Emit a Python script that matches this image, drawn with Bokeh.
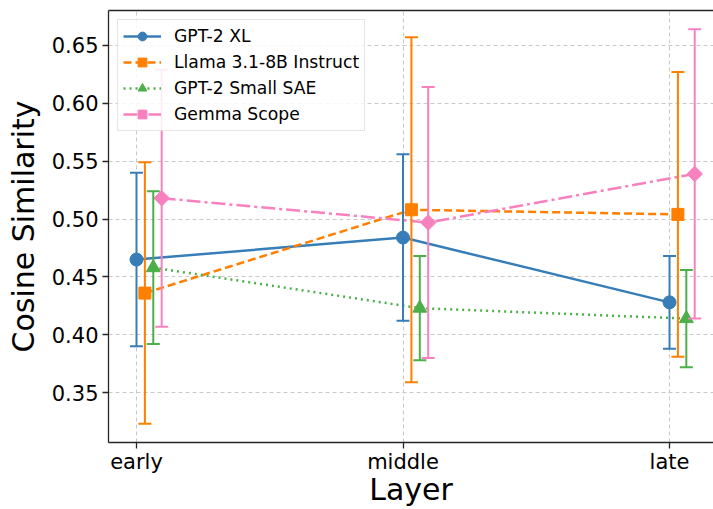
import numpy as np
from bokeh.plotting import figure
from bokeh.models import (Range1d, FixedTicker, PrintfTickFormatter, Whisker, TeeHead,
                          ColumnDataSource, Legend, LegendItem, LinearAxis)
from bokeh.embed import file_html
from bokeh.resources import INLINE

layers = ["early", "middle", "late"]
series_names = ["GPT-2 XL", "Llama 3.1-8B Instruct", "GPT-2 Small SAE", "Gemma Scope"]

gpt2xl_mean = [0.465, 0.484, 0.428]
gpt2xl_err = [0.075, 0.072, 0.040]
llama_mean = [0.436, 0.508, 0.504]
llama_err = [0.113, 0.149, 0.123]
sae_mean = [0.458, 0.423, 0.414]
sae_err = [0.066, 0.045, 0.042]
gemma_mean = [0.518, 0.497, 0.539]
gemma_err = [0.111, 0.117, 0.125]

y_ticks = [0.35, 0.40, 0.45, 0.50, 0.55, 0.60, 0.65]

means = [gpt2xl_mean, llama_mean, sae_mean, gemma_mean]
errs = [gpt2xl_err, llama_err, sae_err, gemma_err]
colors = ["#377eb8", "#ff7f00", "#4daf4a", "#f781bf"]
dashes = ["solid", "8 4", "2 4", "14 4 3 4"]
markers = ["circle", "square", "triangle", "square"]
msizes = [13, 12, 14, 11]
angles = [0, 0, 0, np.pi / 4]
step = 0.0315

FONT = "DejaVu Sans"
AX = "#262626"

p = figure(width=713, height=509, output_backend="svg", toolbar_location=None,
           x_range=Range1d(-0.105, 2.165), y_range=Range1d(0.3069, 0.6802),
           min_border_left=108, min_border_right=0, min_border_top=10, min_border_bottom=66)
p.outline_line_color = None
p.background_fill_color = "white"

for ax in (p.xaxis[0], p.yaxis[0]):
    ax.axis_line_color = AX
    ax.axis_line_width = 1.3
    ax.major_tick_line_color = AX
    ax.major_tick_line_width = 1.3
    ax.major_tick_out = 6
    ax.major_tick_in = 0
    ax.minor_tick_line_color = None
    ax.major_label_text_font = FONT
    ax.major_label_text_font_size = "21px"
    ax.major_label_text_color = "black"
    ax.axis_label_text_font = FONT
    ax.axis_label_text_font_size = "30px"
    ax.axis_label_text_font_style = "normal"
    ax.axis_label_text_color = "black"

p.xaxis.ticker = FixedTicker(ticks=list(range(len(layers))))
p.xaxis.major_label_overrides = {i: l for i, l in enumerate(layers)}
p.xaxis.axis_label = "Layer"
p.xaxis.major_label_standoff = 1
p.xaxis.axis_label_standoff = -5

p.yaxis.ticker = FixedTicker(ticks=y_ticks)
p.yaxis.formatter = PrintfTickFormatter(format="%.2f")
p.yaxis.axis_label = "Cosine Similarity"
p.yaxis.major_label_standoff = 4
p.yaxis.axis_label_standoff = 8

top = LinearAxis(ticker=FixedTicker(ticks=[]), major_label_text_font_size="0px",
                 major_tick_out=0, major_tick_in=0, minor_tick_out=0, minor_tick_in=0,
                 major_label_standoff=0, axis_line_color=AX, axis_line_width=1.3)
p.add_layout(top, "above")

p.xgrid.grid_line_color = "#c8c8c8"
p.ygrid.grid_line_color = "#c8c8c8"
p.xgrid.grid_line_dash = "4 3"
p.ygrid.grid_line_dash = "4 3"
p.xgrid.grid_line_width = 1
p.ygrid.grid_line_width = 1

items = []
for k in range(4):
    xs = [i + k * step for i in range(len(layers))]
    m = means[k]
    e = errs[k]
    src = ColumnDataSource(dict(x=xs, y=m,
                                upper=[a + b for a, b in zip(m, e)],
                                lower=[a - b for a, b in zip(m, e)]))
    w = Whisker(source=src, base="x", upper="upper", lower="lower", dimension="height",
                line_color=colors[k], line_width=2, level="glyph",
                upper_head=TeeHead(size=13, line_color=colors[k], line_width=2),
                lower_head=TeeHead(size=13, line_color=colors[k], line_width=2))
    p.add_layout(w)
    ln = p.line("x", "y", source=src, line_color=colors[k], line_width=2.5, line_dash=dashes[k])
    sc = p.scatter("x", "y", source=src, marker=markers[k], size=msizes[k], angle=angles[k],
                   fill_color=colors[k], line_color=colors[k])
    items.append(LegendItem(label=series_names[k], renderers=[ln, sc]))

legend = Legend(items=items, location="top_left")
legend.margin = 9
legend.padding = 5
legend.glyph_width = 38
legend.glyph_height = 22
legend.label_height = 22
legend.spacing = 4
legend.label_standoff = 13
legend.label_text_font = FONT
legend.label_text_font_size = "17.2px"
legend.label_text_color = "black"
legend.border_line_color = "#cccccc"
legend.border_line_width = 1
legend.background_fill_alpha = 0.85
p.add_layout(legend)

open("out.html", "w").write(file_html(p, INLINE))
